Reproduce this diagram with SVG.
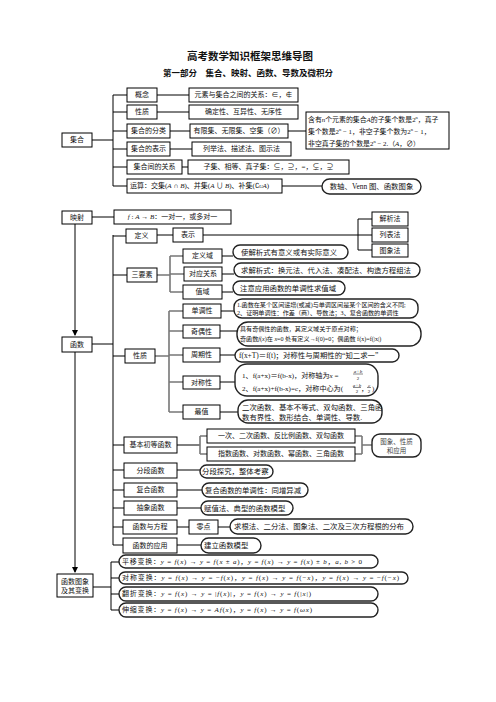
<svg xmlns="http://www.w3.org/2000/svg" width="496" height="702" viewBox="0 0 496 702">
<defs>
<marker id="arr" markerWidth="6" markerHeight="6" refX="5" refY="3" orient="auto" markerUnits="userSpaceOnUse"><path d="M0,0 L6,3 L0,6 Z" fill="#000"/></marker>
<style>
text{font-family:"Liberation Serif","Noto Sans CJK SC",serif;font-size:7px;fill:#111;dominant-baseline:central}
.m{text-anchor:middle}
.b{fill:#fff;stroke:#000;stroke-width:1}
.c{fill:#fff;stroke:#222;stroke-width:1.4}
.l{fill:none;stroke:#000;stroke-width:1}
.g{fill:none;stroke:#777;stroke-width:1.6}
.ct{font-size:7.4px}
.s{font-size:6.1px}
.n{font-size:6.9px}
.d{font-size:7.1px}
.f{font-size:5px}
.i{font-style:italic}
.h1{font-family:"Noto Sans CJK SC",sans-serif;font-size:10.5px;font-weight:bold}
.h2{font-family:"Noto Sans CJK SC",sans-serif;font-size:8.5px;font-weight:bold}
</style>
</defs>
<rect width="496" height="702" fill="#fff"/>
<text class="h1 m" x="250" y="55">高考数学知识框架思维导图</text>
<text class="h2 m" x="248" y="72">第一部分　集合、映射、函数、导数及微积分</text>

<g id="connectors">
<path class="l" d="M92 140H113M113 95V186M113 95H127M113 112H127M113 131H127M113 149H127M113 167H127M113 186H127"/>
<path class="l" d="M157 95H189M157 112H189M170 131H190M170 149H192M182 167H188M282 186H322M288 131H306"/>
<path class="l" d="M92 217H114"/>
<path class="l" d="M75 224V335" marker-end="url(#arr)"/>
<path class="l" d="M92 344H113M113 235V545"/>
<path class="l" d="M113 236H126M157 235H173M203 235H358M358 219V250M358 219H372M358 235H372M358 250H372"/>
<path class="l" d="M113 275H127"/>
<path class="g" d="M157 275H170M170 256V292M170 256H183M170 274H184M170 292H183"/>
<path class="l" d="M222 256H233M222 274H234M222 292H233"/>
<path class="l" d="M113 356H125"/>
<path class="g" d="M155 356H169M169 311V412M169 311H183M169 331H183M169 355H183M169 382H183M169 412H183"/>
<path class="l" d="M221 311H234M220 331H237M220 355H235M220 382H235M220 412H238"/>
<path class="l" d="M113 445H124M177 445H200M113 470H124M177 470H200M113 490H124M177 490H202M113 508H124M177 508H201M113 527H123M177 527H189M218 527H230M113 545H123M177 545H201"/>
<path class="g" d="M200 436V454M200 436H207M200 454H207M355 436H362M355 454H362M362 436V454M362 445H372"/>
<path class="l" d="M75 352V572" marker-end="url(#arr)"/>
<path class="l" d="M93 587H111M111 562V610M111 562H119M111 578H119M111 594H119M111 610H119"/>
</g>

<g id="jihe"><rect class="b" x="62" y="133" width="30" height="14"/><text class="m" x="77" y="140">集合</text></g>
<g id="gainian"><rect class="b" x="127" y="88" width="30" height="14"/><text class="m" x="142" y="95">概念</text></g>
<g id="xingzhi1"><rect class="b" x="127" y="105" width="30" height="14"/><text class="m" x="142" y="112">性质</text></g>
<g id="fenlei"><rect class="b" x="127" y="124" width="43" height="14"/><text class="m" x="148.5" y="131">集合的分类</text></g>
<g id="biaoshi1"><rect class="b" x="127" y="142" width="43" height="14"/><text class="m" x="148.5" y="149">集合的表示</text></g>
<g id="guanxi"><rect class="b" x="127" y="160" width="55" height="14"/><text class="m" x="154.5" y="167">集合间的关系</text></g>
<g id="yunsuan"><rect class="b" x="127" y="179" width="155" height="14"/><text x="130" y="186">运算：交集(<tspan class="i">A</tspan> ∩ <tspan class="i">B</tspan>)、并集(<tspan class="i">A</tspan> ∪ <tspan class="i">B</tspan>)、补集(∁<tspan class="i" style="font-size:5px">U</tspan><tspan class="i">A</tspan>)</text></g>
<g id="yuansu"><rect class="b" x="189" y="88" width="109" height="14"/><text class="m" x="243.5" y="95">元素与集合之间的关系：∈，∉</text></g>
<g id="queding"><rect class="b" x="189" y="105" width="109" height="14"/><text class="m" x="243.5" y="112">确定性、互异性、无序性</text></g>
<g id="youxian"><rect class="b" x="190" y="124" width="98" height="14"/><text class="m" x="239" y="131">有限集、无限集、空集（∅）</text></g>
<g id="liejv"><rect class="b" x="192" y="142" width="99" height="14"/><text class="m" x="241.5" y="149">列举法、描述法、图示法</text></g>
<g id="ziji"><rect class="b" x="188" y="160" width="161" height="14"/><text class="m" x="268.5" y="167">子集、相等、真子集：⊆，⊇，=，⊊，⊋</text></g>
<g id="venn"><rect class="c" x="322" y="179" width="99" height="15" rx="7.5"/><text class="m ct" x="371.5" y="186.5">数轴、Venn 图、函数图象</text></g>
<g id="ziji-n"><rect class="b" x="306" y="112" width="143" height="37"/>
<text class="n" x="308" y="119">含有<tspan class="i">n</tspan>个元素的集合<tspan class="i">A</tspan>的子集个数是2<tspan style="font-size:4.5px" dy="-2">n</tspan><tspan dy="2">，真子</tspan></text>
<text class="n" x="308" y="131">集个数是2<tspan style="font-size:4.5px" dy="-2">n</tspan><tspan dy="2"> − 1，非空子集个数为2</tspan><tspan style="font-size:4.5px" dy="-2">n</tspan><tspan dy="2"> − 1，</tspan></text>
<text class="n" x="308" y="143">非空真子集的个数是2<tspan style="font-size:4.5px" dy="-2">n</tspan><tspan dy="2"> − 2.（<tspan class="i">A</tspan>，∅）</tspan></text></g>

<g id="yingshe"><rect class="b" x="62" y="211" width="30" height="13"/><text class="m" x="77" y="217.5">映射</text></g>
<g id="fab"><rect class="b" x="114" y="210" width="117" height="14"/><text class="m" x="172.5" y="217"><tspan class="i">f</tspan> : <tspan class="i">A</tspan> → <tspan class="i">B</tspan>：一对一，或多对一</text></g>
<g id="hanshu"><rect class="b" x="62" y="337" width="30" height="15"/><text class="m" x="77" y="344.5">函数</text></g>
<g id="dingyi"><rect class="b" x="126" y="229" width="31" height="14"/><text class="m" x="141.5" y="236">定义</text></g>
<g id="biaoshi2"><rect class="b" x="173" y="228" width="30" height="14"/><text class="m" x="188" y="235">表示</text></g>
<g id="jiexi"><rect class="b" x="372" y="212" width="36" height="14"/><text class="m" x="390" y="219">解析法</text></g>
<g id="liebiao"><rect class="b" x="372" y="228" width="36" height="14"/><text class="m" x="390" y="235">列表法</text></g>
<g id="tuxiang"><rect class="b" x="372" y="244" width="36" height="13"/><text class="m" x="390" y="250.5">图象法</text></g>
<g id="sanyaosu"><rect class="b" x="127" y="268" width="30" height="14"/><text class="m" x="142" y="275">三要素</text></g>
<g id="dingyiyu"><rect class="b" x="183" y="249" width="39" height="14"/><text class="m" x="202.5" y="256">定义域</text></g>
<g id="duiying"><rect class="b" x="184" y="267" width="38" height="14"/><text class="m" x="203" y="274">对应关系</text></g>
<g id="zhiyu"><rect class="b" x="183" y="285" width="39" height="14"/><text class="m" x="202.5" y="292">值域</text></g>
<g id="c-dingyiyu"><rect class="c" x="233" y="245" width="115" height="14" rx="7"/><text class="ct" x="241" y="252">使解析式有意义或有实际意义</text></g>
<g id="c-duiying"><rect class="c" x="234" y="263" width="186" height="14" rx="7"/><text class="ct" x="241" y="270">求解析式：换元法、代入法、凑配法、构造方程组法</text></g>
<g id="c-zhiyu"><rect class="c" x="233" y="281" width="112" height="14" rx="7"/><text class="ct" x="240" y="288">注意应用函数的单调性求值域</text></g>

<g id="xingzhi2"><rect class="b" x="125" y="349" width="30" height="14"/><text class="m" x="140" y="356">性质</text></g>
<g id="dandiao"><rect class="b" x="183" y="304" width="38" height="14"/><text class="m" x="202" y="311">单调性</text></g>
<g id="c-dandiao"><rect class="c" x="234" y="299" width="184" height="19" rx="8"/>
<text class="s" x="237" y="305">1.函数在某个区间递增(或减)与单调区间是某个区间的含义不同;</text>
<text class="s" x="237" y="313">2、证明单调性：作差（商）、导数法；3、复合函数的单调性</text></g>
<g id="qiou"><rect class="b" x="183" y="325" width="37" height="13"/><text class="m" x="201.5" y="331.5">奇偶性</text></g>
<g id="c-qiou"><rect class="c" x="237" y="322" width="184" height="24" rx="11"/>
<text class="s" x="240" y="329">具有奇偶性的函数，其定义域关于原点对称；</text>
<text class="s" x="240" y="339">奇函数<tspan class="i">f</tspan>(<tspan class="i">x</tspan>)在 <tspan class="i">x</tspan>=0 处有定义→f(0)=0；偶函数 f(x)=f(|x|)</text></g>
<g id="zhouqi"><rect class="b" x="183" y="348" width="37" height="14"/><text class="m" x="201.5" y="355">周期性</text></g>
<g id="c-zhouqi"><rect class="c" x="235" y="349" width="164" height="13" rx="6.5"/><text class="ct" x="239" y="355.5">f(x+T)＝f(t)；对称性与周期性的“知二求一”</text></g>
<g id="duicheng"><rect class="b" x="183" y="376" width="37" height="13"/><text class="m" x="201.5" y="382.5">对称性</text></g>
<g id="c-duicheng"><rect class="c" x="235" y="364" width="143" height="32" rx="12"/>
<text class="d" x="242" y="376">1、f(a+x)＝f(b-x)，对称轴为<tspan class="i">x</tspan> =</text>
<text class="m i f" x="358" y="371">a+b</text><path d="M353 374H363" stroke="#111" stroke-width="0.5"/><text class="m f" x="358" y="378">2</text>
<text class="d" x="242" y="389">2、f(a+x)+f(b-x)=c，对称中心为(</text>
<text class="m i f" x="357" y="385">a+b</text><path d="M353 387.5H361" stroke="#111" stroke-width="0.5"/><text class="m f" x="357" y="391.5">2</text>
<text class="d" x="361" y="389">，</text>
<text class="m i f" x="369" y="385">c</text><path d="M367 387.5H371" stroke="#111" stroke-width="0.5"/><text class="m f" x="369" y="391.5">2</text>
<text class="d" x="372" y="389">)</text></g>
<g id="zuizhi"><rect class="b" x="183" y="405" width="37" height="14"/><text class="m" x="201.5" y="412">最值</text></g>
<g id="c-zuizhi"><rect class="c" x="238" y="400" width="144" height="23" rx="10"/>
<text class="ct" x="242" y="407.5">二次函数、基本不等式、双勾函数、三角函</text>
<text class="ct" x="242" y="417">数有界性、数形结合、单调性、导数.</text></g>

<g id="jiben"><rect class="b" x="124" y="437" width="53" height="16"/><text class="m" x="150.5" y="445">基本初等函数</text></g>
<g id="yici"><rect class="b" x="207" y="429" width="148" height="14"/><text class="m" x="281" y="436">一次、二次函数、反比例函数、双勾函数</text></g>
<g id="zhishu"><rect class="b" x="207" y="447" width="148" height="14"/><text class="m" x="281" y="454">指数函数、对数函数、幂函数、三角函数</text></g>
<g id="c-tuxiang"><rect class="c" x="372" y="434" width="49" height="23" rx="8"/><text class="m" x="396.5" y="441.5" style="font-size:6.5px;fill:#444">图象、性质</text><text class="m" x="396.5" y="450.5" style="font-size:6.5px;fill:#444">和应用</text></g>
<g id="fenduan"><rect class="b" x="124" y="463" width="53" height="15"/><text class="m" x="150.5" y="470.5">分段函数</text></g>
<g id="c-fenduan"><rect class="c" x="200" y="465" width="73" height="13" rx="6.5"/><text class="ct" x="202" y="471.5">分段探究，整体考察</text></g>
<g id="fuhe"><rect class="b" x="124" y="483" width="53" height="14"/><text class="m" x="150.5" y="490">复合函数</text></g>
<g id="c-fuhe"><rect class="c" x="202" y="483" width="106" height="14" rx="7"/><text class="ct" x="205" y="490">复合函数的单调性：同增异减</text></g>
<g id="chouxiang"><rect class="b" x="124" y="501" width="53" height="14"/><text class="m" x="150.5" y="508">抽象函数</text></g>
<g id="c-chouxiang"><rect class="c" x="201" y="501" width="92" height="14" rx="7"/><text class="ct" x="204" y="508">赋值法、典型的函数模型</text></g>
<g id="fangcheng"><rect class="b" x="123" y="520" width="54" height="14"/><text class="m" x="150" y="527">函数与方程</text></g>
<g id="lingdian"><rect class="b" x="189" y="520" width="29" height="14"/><text class="m" x="203.5" y="527">零点</text></g>
<g id="c-lingdian"><rect class="c" x="230" y="519" width="183" height="15" rx="7.5"/><text class="ct" x="234" y="526.5">求根法、二分法、图象法、二次及三次方程根的分布</text></g>
<g id="yingyong"><rect class="b" x="123" y="538" width="54" height="15"/><text class="m" x="150" y="545.5">函数的应用</text></g>
<g id="c-yingyong"><rect class="c" x="201" y="538" width="60" height="15" rx="7.5"/><text class="ct" x="204" y="545.5">建立函数模型</text></g>

<g id="tuxiangbianhuan"><rect class="b" x="57" y="574" width="36" height="23"/><text class="m" x="75" y="581.5">函数图象</text><text class="m" x="75" y="590.5">及其变换</text></g>
<g id="pingyi"><rect class="c" x="119" y="555" width="259" height="13" rx="6.5"/><text x="122" y="561.5" textLength="240" lengthAdjust="spacing">平移变换：<tspan class="i">y</tspan> = <tspan class="i">f</tspan>(<tspan class="i">x</tspan>) → <tspan class="i">y</tspan> = <tspan class="i">f</tspan>(<tspan class="i">x</tspan> ± <tspan class="i">a</tspan>)，<tspan class="i">y</tspan> = <tspan class="i">f</tspan>(<tspan class="i">x</tspan>) → <tspan class="i">y</tspan> = <tspan class="i">f</tspan>(<tspan class="i">x</tspan>) ± <tspan class="i">b</tspan>，<tspan class="i">a</tspan>, <tspan class="i">b</tspan> &gt; 0</text></g>
<g id="duichengbh"><rect class="c" x="119" y="572" width="289" height="12" rx="6"/><text x="122" y="578" textLength="277" lengthAdjust="spacing">对称变换：<tspan class="i">y</tspan> = <tspan class="i">f</tspan>(<tspan class="i">x</tspan>) → <tspan class="i">y</tspan> = −<tspan class="i">f</tspan>(<tspan class="i">x</tspan>)，<tspan class="i">y</tspan> = <tspan class="i">f</tspan>(<tspan class="i">x</tspan>) → <tspan class="i">y</tspan> = <tspan class="i">f</tspan>(−<tspan class="i">x</tspan>)，<tspan class="i">y</tspan> = <tspan class="i">f</tspan>(<tspan class="i">x</tspan>) → <tspan class="i">y</tspan> = −<tspan class="i">f</tspan>(−<tspan class="i">x</tspan>)</text></g>
<g id="fanzhe"><rect class="c" x="119" y="587" width="259" height="14" rx="7"/><text x="122" y="594" textLength="189" lengthAdjust="spacing">翻折变换：<tspan class="i">y</tspan> = <tspan class="i">f</tspan>(<tspan class="i">x</tspan>) → <tspan class="i">y</tspan> = |<tspan class="i">f</tspan>(<tspan class="i">x</tspan>)|，<tspan class="i">y</tspan> = <tspan class="i">f</tspan>(<tspan class="i">x</tspan>) → <tspan class="i">y</tspan> = <tspan class="i">f</tspan>(|<tspan class="i">x</tspan>|)</text></g>
<g id="shensuo"><rect class="c" x="119" y="603" width="259" height="14" rx="7"/><text x="122" y="610" textLength="190" lengthAdjust="spacing">伸缩变换：<tspan class="i">y</tspan> = <tspan class="i">f</tspan>(<tspan class="i">x</tspan>) → <tspan class="i">y</tspan> = <tspan class="i">Af</tspan>(<tspan class="i">x</tspan>)，<tspan class="i">y</tspan> = <tspan class="i">f</tspan>(<tspan class="i">x</tspan>) → <tspan class="i">y</tspan> = <tspan class="i">f</tspan>(<tspan class="i">ωx</tspan>)</text></g>
</svg>
